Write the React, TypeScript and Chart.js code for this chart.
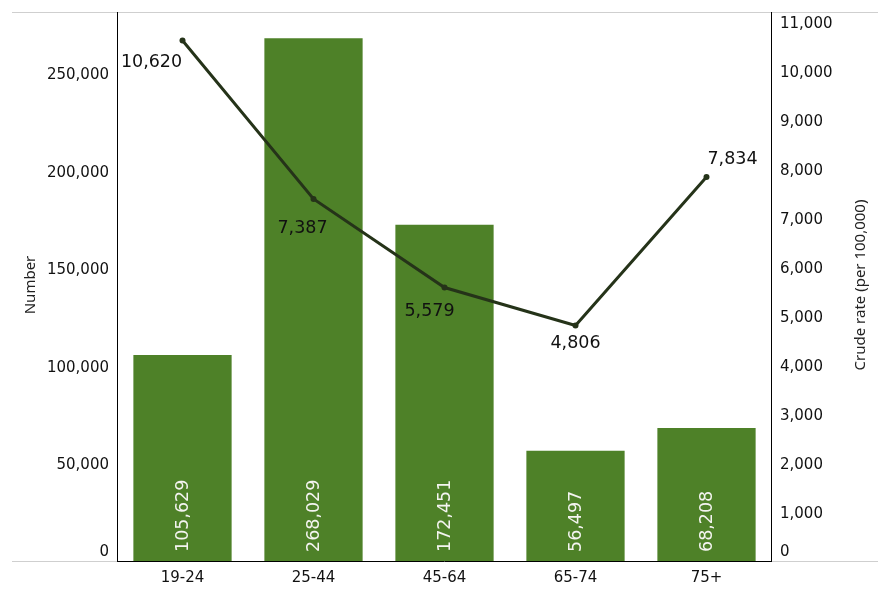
import React, { useEffect, useRef } from "react";
import { Chart, registerables } from "chart.js";

Chart.register(...registerables);

const categories = ["19-24", "25-44", "45-64", "65-74", "75+"];
const numbers = [105629, 268029, 172451, 56497, 68208];
const rates = [10620, 7387, 5579, 4806, 7834];
const leftTicks = [0, 50000, 100000, 150000, 200000, 250000];
const rightTicks = [0, 1000, 2000, 3000, 4000, 5000, 6000, 7000, 8000, 9000, 10000, 11000];

const BAR_COLOR = "#4e8128";
const LINE_COLOR = "#253319";
const TICK_FONT = "15px 'DejaVu Sans'";
const LABEL_FONT = "17.5px 'DejaVu Sans'";
const TITLE_FONT = "15px 'Noto Sans'";
// label placement relative to point: [dx, dy]
const rateLabelPlacement: [number, number][] = [
  [-31, 22],
  [-11, 30],
  [-15, 24],
  [0, 18],
  [26, -18],
];

const fmt = (v: number) => v.toLocaleString("en-US");

const overlay = {
  id: "overlay",
  afterDatasetsDraw(chart: any) {
    const ctx = chart.ctx as CanvasRenderingContext2D;
    const { left, right, top, bottom } = chart.chartArea;
    const yL = chart.scales.y;
    const yR = chart.scales.y1;
    const x = chart.scales.x;
    ctx.save();

    // bar labels
    const barMeta = chart.getDatasetMeta(0);
    ctx.font = LABEL_FONT;
    ctx.fillStyle = "#f4f4f0";
    ctx.textAlign = "left";
    ctx.textBaseline = "middle";
    barMeta.data.forEach((el: any, i: number) => {
      ctx.save();
      ctx.translate(el.x + 1, bottom - 9);
      ctx.rotate(-Math.PI / 2);
      ctx.fillText(fmt(numbers[i]), 0, 0);
      ctx.restore();
    });

    // line labels
    const lineMeta = chart.getDatasetMeta(1);
    ctx.fillStyle = "#111";
    ctx.textAlign = "center";
    lineMeta.data.forEach((el: any, i: number) => {
      const [dx, dy] = rateLabelPlacement[i];
      ctx.fillText(fmt(rates[i]), el.x + dx, el.y + dy);
    });

    // gray lines
    ctx.strokeStyle = "#cfcfcf";
    ctx.lineWidth = 1;
    ctx.beginPath();
    ctx.moveTo(12, top + 0.5);
    ctx.lineTo(878, top + 0.5);
    ctx.moveTo(12, bottom + 0.5);
    ctx.lineTo(left, bottom + 0.5);
    ctx.moveTo(right, bottom + 0.5);
    ctx.lineTo(878, bottom + 0.5);
    ctx.stroke();

    // axes lines
    ctx.strokeStyle = "#000";
    ctx.beginPath();
    ctx.moveTo(left + 0.5, top);
    ctx.lineTo(left + 0.5, bottom + 1);
    ctx.moveTo(right - 0.5, top);
    ctx.lineTo(right - 0.5, bottom + 1);
    ctx.moveTo(left, bottom + 0.5);
    ctx.lineTo(right, bottom + 0.5);
    ctx.stroke();

    // tick labels
    ctx.font = TICK_FONT;
    ctx.fillStyle = "#111";
    ctx.textBaseline = "middle";
    ctx.textAlign = "right";
    leftTicks.forEach((v) => {
      const py = Math.min(yL.getPixelForValue(v), bottom - 11);
      ctx.fillText(fmt(v), left - 8, py + 2);
    });
    ctx.textAlign = "left";
    rightTicks.forEach((v) => {
      const py = Math.min(yR.getPixelForValue(v), bottom - 11);
      ctx.fillText(fmt(v), right + 8, py + 2);
    });
    ctx.textAlign = "center";
    categories.forEach((c, i) => {
      ctx.fillText(c, x.getPixelForValue(i), bottom + 17);
    });

    // titles
    ctx.font = TITLE_FONT;
    ctx.fillStyle = "#222";
    ctx.save();
    ctx.translate(31, 285);
    ctx.rotate(-Math.PI / 2);
    ctx.fillText("Number", 0, 0);
    ctx.restore();
    ctx.save();
    ctx.translate(861, 285);
    ctx.rotate(-Math.PI / 2);
    ctx.fillText("Crude rate (per 100,000)", 0, 0);
    ctx.restore();

    ctx.restore();
  },
};

export default function App() {
  const ref = useRef<HTMLCanvasElement>(null);
  useEffect(() => {
    document.body.style.margin = "0";
    const chart = new Chart(ref.current as HTMLCanvasElement, {
      type: "bar",
      data: {
        labels: categories,
        datasets: [
          {
            type: "bar",
            data: numbers,
            backgroundColor: BAR_COLOR,
            yAxisID: "y",
            categoryPercentage: 0.75,
            barPercentage: 1,
            order: 2,
          },
          {
            type: "line",
            data: rates,
            borderColor: LINE_COLOR,
            backgroundColor: LINE_COLOR,
            borderWidth: 3,
            pointRadius: 3,
            pointBackgroundColor: LINE_COLOR,
            pointBorderWidth: 0,
            yAxisID: "y1",
            order: 1,
          } as any,
        ],
      },
      options: {
        responsive: false,
        animation: false,
        layout: { padding: { left: 117, right: 118, top: 12, bottom: 39 } },
        plugins: { legend: { display: false }, tooltip: { enabled: false } },
        scales: {
          x: { display: false, offset: true },
          y: { display: false, min: 0, max: 281500 },
          y1: { display: false, min: 0, max: 11200, position: "right" },
        },
      },
      plugins: [overlay],
    });
    return () => chart.destroy();
  }, []);
  return <canvas ref={ref} width={890} height={600} style={{ display: "block" }} />;
}
